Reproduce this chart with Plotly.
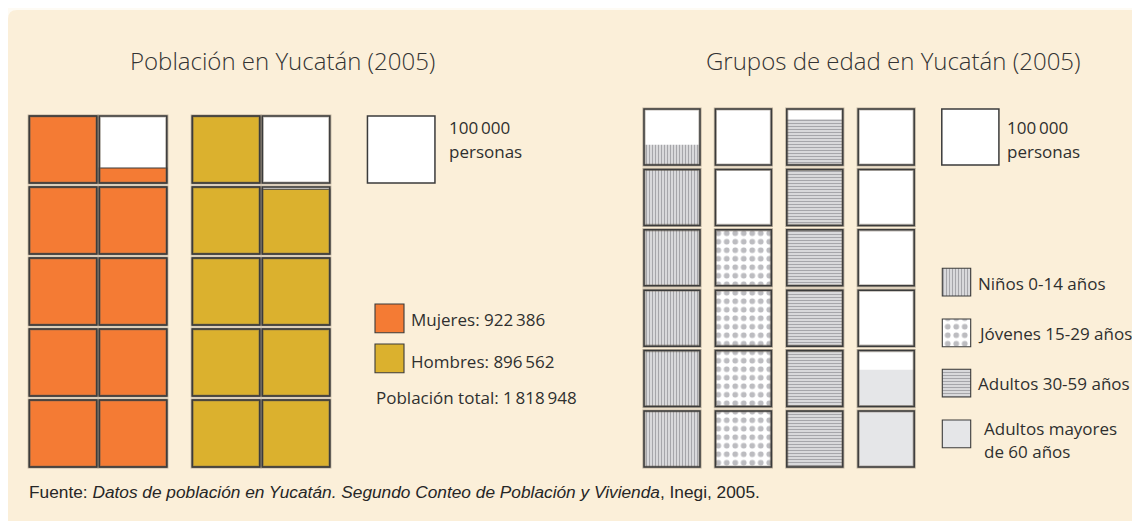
import plotly.graph_objects as go

W, H = 1140, 521
OX, OY = 8, 8  # page offset of the plot inside the browser window

# ---------------- DATA ----------------
sexo = ["Mujeres", "Hombres"]
poblacion_sexo = [922386, 896562]
poblacion_total = 1818948
grupos_edad = ["Niños 0-14 años", "Jóvenes 15-29 años", "Adultos 30-59 años", "Adultos mayores de 60 años"]
poblacion_edad = [536000, 400000, 582000, 166000]
unidad = 100000  # one square = 100 000 personas

colores_sexo = ["#f47b34", "#dbb12e"]
BORDE = "#3b3b3b"
SOMBRA = "rgba(110,100,85,0.45)"
TXT = "#2f2f2f"

# ---------------- helpers (window pixel -> paper fraction) ----------------
def px_x(x):
    return (x - OX) / W

def px_y(y):
    return 1 - (y - OY) / H

def clamp(v, lo, hi):
    return max(lo, min(hi, v))

# ---- left chart geometry (units: one square = 1) ----
L_X0, L_SQW, L_BOT, L_SQH = 29.3, 67.5, 467.0, 67.0
L_COLP = 70.0 / L_SQW
L_GRPP = 163.0 / L_SQW
L_ROWP = 71.0 / L_SQH
L_DOM = (OX, 612.0)

# ---- right chart geometry ----
R_X0, R_SQ, R_BOT = 644.0, 56.0, 467.0
R_COLP = 71.4 / R_SQ
R_ROWP = 60.4 / R_SQ
R_DOM = (612.0, OX + W)

traces = []

def outline(xs, bases, xa, ya, width=1):
    # soft shadow + dark frame around each square
    return [
        go.Bar(x=xs, y=[1] * len(xs), base=bases, width=width, xaxis=xa, yaxis=ya,
               marker=dict(color="rgba(0,0,0,0)", line=dict(color=SOMBRA, width=3.2)), hoverinfo="skip"),
        go.Bar(x=xs, y=[1] * len(xs), base=bases, width=width, xaxis=xa, yaxis=ya,
               marker=dict(color="rgba(0,0,0,0)", line=dict(color=BORDE, width=1.5)), hoverinfo="skip"),
    ]

# ---------- left chart: population by sex ----------
rows_l, cols_l = 5, 2
bg_x, bg_b = [], []
for g in range(len(sexo)):
    for c in range(cols_l):
        xc = 0.5 + g * L_GRPP + c * L_COLP
        for r in range(rows_l):
            bg_x.append(xc)
            bg_b.append(r * L_ROWP)
traces.append(go.Bar(x=bg_x, y=[1] * len(bg_x), base=bg_b, width=1, xaxis="x", yaxis="y",
                     marker=dict(color="white", line=dict(width=0)), hoverinfo="skip"))
for g, valor in enumerate(poblacion_sexo):
    unidades = valor / unidad
    fx, fb, fh = [], [], []
    for c in range(cols_l):
        xc = 0.5 + g * L_GRPP + c * L_COLP
        col_units = clamp(unidades - c * rows_l, 0, rows_l)
        for r in range(rows_l):
            frac = clamp(col_units - r, 0, 1)
            if frac > 0:
                fx.append(xc)
                fb.append(r * L_ROWP)
                fh.append(frac)
    traces.append(go.Bar(x=fx, y=fh, base=fb, width=1, xaxis="x", yaxis="y",
                         marker=dict(color=colores_sexo[g], line=dict(color=BORDE, width=1.1)),
                         hoverinfo="skip"))
traces += outline(bg_x, bg_b, "x", "y")

# left legend: unit square + sex swatches
traces.append(go.Bar(x=[(401.2 - L_X0) / L_SQW], y=[1], base=[(rows_l - 1) * L_ROWP], width=1,
                     xaxis="x", yaxis="y",
                     marker=dict(color="white", line=dict(color=BORDE, width=1.5)), hoverinfo="skip"))
sw_x = (389.5 - L_X0) / L_SQW
sw_w = 29.0 / L_SQW
sw_h = 28.7 / L_SQH
sw_bases = [(L_BOT - 332.7) / L_SQH, (L_BOT - 372.7) / L_SQH]
for g in range(len(sexo)):
    traces.append(go.Bar(x=[sw_x], y=[sw_h], base=[sw_bases[g]], width=sw_w,
                         xaxis="x", yaxis="y",
                         marker=dict(color=colores_sexo[g], line=dict(color=BORDE, width=1.1)),
                         hoverinfo="skip"))

# ---------- right chart: age groups ----------
rows_r = 6
estilos = [
    dict(color="#d6d6d8", pattern=dict(shape="|", fgcolor="#a5a5a9", bgcolor="#d9d9db", size=3, solidity=0.33, fillmode="replace")),
    dict(color="white", pattern=dict(shape=".", fgcolor="#bcbcc0", bgcolor="white", size=8.5, solidity=0.36, fillmode="replace")),
    dict(color="#d6d6d8", pattern=dict(shape="-", fgcolor="#a5a5a9", bgcolor="#d9d9db", size=3, solidity=0.33, fillmode="replace")),
    dict(color="#e5e6e8"),
]
rbg_x, rbg_b = [], []
for k in range(len(grupos_edad)):
    xc = 0.5 + k * R_COLP
    for r in range(rows_r):
        rbg_x.append(xc)
        rbg_b.append(r * R_ROWP)
traces.append(go.Bar(x=rbg_x, y=[1] * len(rbg_x), base=rbg_b, width=1, xaxis="x2", yaxis="y2",
                     marker=dict(color="white", line=dict(width=0)), hoverinfo="skip"))
for k, valor in enumerate(poblacion_edad):
    unidades = valor / unidad
    xc = 0.5 + k * R_COLP
    fx, fb, fh = [], [], []
    for r in range(rows_r):
        frac = clamp(unidades - r, 0, 1)
        if frac > 0:
            fx.append(xc)
            fb.append(r * R_ROWP)
            fh.append(frac)
    traces.append(go.Bar(x=fx, y=fh, base=fb, width=1, xaxis="x2", yaxis="y2",
                         marker=dict(line=dict(width=0), **estilos[k]), hoverinfo="skip"))
traces += outline(rbg_x, rbg_b, "x2", "y2")

# right legend
traces.append(go.Bar(x=[(970.35 - R_X0) / R_SQ], y=[1], base=[(rows_r - 1) * R_ROWP], width=1.02,
                     xaxis="x2", yaxis="y2",
                     marker=dict(color="white", line=dict(color=BORDE, width=1.5)), hoverinfo="skip"))
rsw_x = (956.5 - R_X0) / R_SQ
rsw_w = 28.4 / R_SQ
rsw_tops = [296.0, 346.7, 397.0, 447.7]
for k in range(len(grupos_edad)):
    traces.append(go.Bar(x=[rsw_x], y=[27.7 / R_SQ], base=[(R_BOT - rsw_tops[k]) / R_SQ], width=rsw_w,
                         xaxis="x2", yaxis="y2",
                         marker=dict(line=dict(color=BORDE, width=1.1), **estilos[k]),
                         hoverinfo="skip"))

fig = go.Figure(traces)

# ---------- axes ----------
def ax_common():
    return dict(visible=False, fixedrange=True, showgrid=False, zeroline=False)

fig.update_layout(
    xaxis=dict(domain=[px_x(L_DOM[0]), px_x(L_DOM[1])],
               range=[(L_DOM[0] - L_X0) / L_SQW, (L_DOM[1] - L_X0) / L_SQW], **ax_common()),
    yaxis=dict(domain=[0, 1], range=[(L_BOT - (OY + H)) / L_SQH, (L_BOT - OY) / L_SQH], **ax_common()),
    xaxis2=dict(domain=[px_x(R_DOM[0]), px_x(R_DOM[1])], anchor="y2",
                range=[(R_DOM[0] - R_X0) / R_SQ, (R_DOM[1] - R_X0) / R_SQ], **ax_common()),
    yaxis2=dict(domain=[0, 1], anchor="x2", range=[(R_BOT - (OY + H)) / R_SQ, (R_BOT - OY) / R_SQ], **ax_common()),
)

# ---------- background (rounded cream panel) ----------
x0, y0, r = 8, 10, 9
path = (f"M {px_x(x0)},{px_y(OY + H + 5)} L {px_x(x0)},{px_y(y0 + r)} "
        f"Q {px_x(x0)},{px_y(y0)} {px_x(x0 + r)},{px_y(y0)} "
        f"L {px_x(OX + W + 5)},{px_y(y0)} L {px_x(OX + W + 5)},{px_y(OY + H + 5)} Z")
fig.add_shape(type="path", path=path, xref="paper", yref="paper",
              fillcolor="#fbefd9", line=dict(width=0), layer="below")

# ---------- texts ----------
anns = []

def ann(text, x, y, size, xanchor="left", family="Open Sans", weight=None, color=TXT):
    f = dict(family=family, size=size, color=color)
    if weight:
        f["weight"] = weight
    anns.append(dict(text=text, x=px_x(x), y=px_y(y), xref="paper", yref="paper",
                     xanchor=xanchor, yanchor="middle", showarrow=False, font=f))

def miles(n):
    return f"{n:,}".replace(",", "\u2009")

ann("Población en Yucatán (2005)", 282, 60, 24, xanchor="center", weight=300, color="#333333")
ann("Grupos de edad en Yucatán (2005)", 893.5, 60, 24, xanchor="center", weight=300, color="#333333")

FS = 17
ann(miles(unidad), 447, 128, FS)
ann("personas", 447, 151, FS)
ann(f"{sexo[0]}: {miles(poblacion_sexo[0])}", 409, 319, FS)
ann(f"{sexo[1]}: {miles(poblacion_sexo[1])}", 409, 361, FS)
ann(f"Población total: {miles(poblacion_total)}", 374, 397, FS)

ann(miles(unidad), 1005, 128, FS)
ann("personas", 1005, 151, FS)
ann(grupos_edad[0], 976, 283, FS)
ann(grupos_edad[1], 976, 333, FS)
ann(grupos_edad[2], 976, 383, FS)
ann("Adultos mayores", 982, 428, FS)
ann("de 60 años", 982, 451, FS)

ann("Fuente: <i>Datos de población en Yucatán. Segundo Conteo de Población y Vivienda</i>, Inegi, 2005.",
    27, 492, 17.3, family="Liberation Sans Narrow, Arial Narrow, sans-serif", color="#262626")

fig.update_layout(
    width=W, height=H, autosize=False,
    margin=dict(l=0, r=0, t=0, b=0, pad=0),
    paper_bgcolor="#fefbf4", plot_bgcolor="rgba(0,0,0,0)",
    barmode="overlay", showlegend=False,
    annotations=anns,
)

fig.write_html("out.html")
